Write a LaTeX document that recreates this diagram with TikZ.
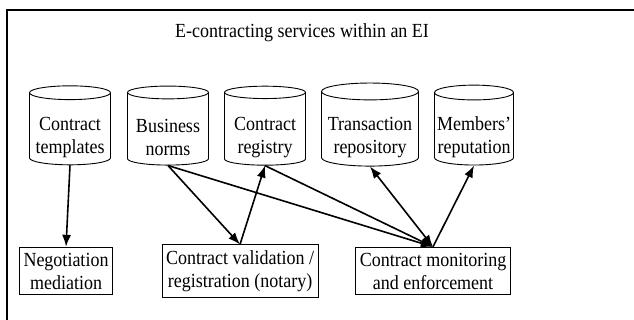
\documentclass[tikz,border=0pt]{standalone}
\usepackage{fontspec}
\setmainfont{Liberation Serif}[FakeStretch=0.9]
\usetikzlibrary{arrows.meta,shapes.geometric}

\begin{document}
\begin{tikzpicture}[x=1pt,y=-1pt,
      db/.style={cylinder, shape border rotate=90, draw, line width=0.9pt,
                 aspect=0.2, minimum width=81pt, minimum height=79pt,
                 inner sep=0pt, align=center, font=\fontsize{20}{23}\selectfont},
      svc/.style={draw, line width=0.9pt, align=center, inner xsep=4pt, inner ysep=5.5pt,
                  font=\fontsize{20}{23}\selectfont},
      link/.style={-{Latex[length=12pt,width=9pt]}, line width=1.6pt},
      every node/.style={align=center}]
    \useasboundingbox (0,0) rectangle (634,320);
    \draw[line width=1.6pt] (7,320) -- (7,10) -- (634,10);
    \node[font=\fontsize{20}{23}\selectfont] (ttl) at (302,33) {E-contracting services within an EI};
    \node[db] (tp) at (70,129)  {\rule{0pt}{30pt}Contract\\templates};
    \node[db] (bn) at (168,129) {\rule{0pt}{30pt}Business\\norms};
    \node[db] (cr) at (265,129) {\rule{0pt}{30pt}Contract\\registry};
    \node[db,minimum width=97pt] (tr) at (370,129) {\rule{0pt}{30pt}Transaction\\repository};
    \node[db,minimum width=79pt] (mr) at (474,129) {\rule{0pt}{30pt}Members'\\reputation};
    \node[svc] (ng) at (66,271)  {Negotiation\\mediation};
    \node[svc] (vr) at (240,271) {Contract validation /\\registration (notary)};
    \node[svc] (mo) at (433,271) {Contract monitoring\\and enforcement};
    \foreach \a/\b in {tp/ng,bn/vr,bn/mo,cr/mo}
      {\draw[link] (\a.south) -- (\b.north);}
    \foreach \a/\b in {vr/cr,mo/mr}
      {\draw[link] (\a.north) -- (\b.south);}
    \draw[link,{Latex[length=12pt,width=9pt]}-{Latex[length=12pt,width=9pt]}] (mo.north) -- (tr.south);
  \end{tikzpicture}
\end{document}
